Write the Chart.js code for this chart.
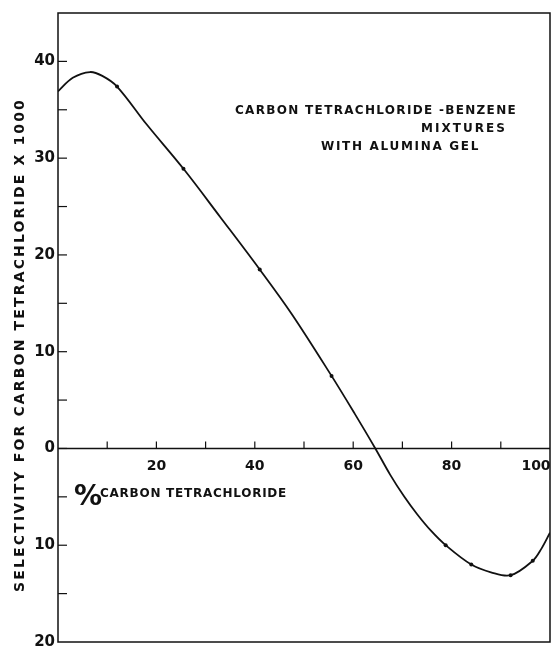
<!DOCTYPE html>
<html>
<head>
<meta charset="utf-8">
<script src="https://cdn.jsdelivr.net/npm/chart.js@4.4.1/dist/chart.umd.min.js"></script>
<style>
  body { margin: 0; background: #fff; }
  canvas { display: block; }
</style>
</head>
<body>
<canvas id="chart" width="554" height="648"></canvas>
<script>
// curve (% CCl4 vs selectivity x 1000)
const curvePercent = [0, 3, 6.5, 9, 12, 18, 25.5, 33, 41, 47.5, 55.6, 60.3, 64.5, 67.5, 70.4, 73, 75.8, 78.8, 84, 88, 92, 96.5, 98.2, 100];
const curveSelectivity = [36.9, 38.3, 38.9, 38.5, 37.4, 33.5, 28.9, 23.9, 18.5, 13.9, 7.5, 3.6, 0, -2.7, -5.0, -6.8, -8.5, -10.0, -12.0, -12.8, -13.1, -11.6, -10.4, -8.7];

// small dots marking measured points
const pointPercent = [12, 25.5, 41, 55.6, 78.8, 84, 92, 96.5];
const pointSelectivity = [37.4, 28.9, 18.5, 7.5, -10.0, -12.0, -13.1, -11.6];

const xLabeled = [20, 40, 60, 80, 100];
const yTitle = 'SELECTIVITY FOR CARBON TETRACHLORIDE X 1000';
const xTitle = 'CARBON TETRACHLORIDE';
const noteLines = ['CARBON TETRACHLORIDE -BENZENE', 'MIXTURES', 'WITH ALUMINA GEL'];

const ink = '#111';

function spacedText(ctx, text, x, y, width, font) {
  ctx.font = font;
  ctx.letterSpacing = '0px';
  const w = ctx.measureText(text).width;
  ctx.letterSpacing = ((width - w) / text.length) + 'px';
  ctx.fillText(text, x, y);
  ctx.letterSpacing = '0px';
}

const framePlugin = {
  id: 'frame',
  beforeDatasetsDraw(chart) {
    const { ctx, chartArea: a, scales: { x, y } } = chart;
    ctx.save();
    ctx.strokeStyle = ink;
    ctx.lineWidth = 1.5;
    ctx.strokeRect(a.left, a.top, a.right - a.left, a.bottom - a.top);
    const y0 = y.getPixelForValue(0);
    ctx.beginPath();
    ctx.moveTo(a.left, y0);
    ctx.lineTo(a.right, y0);
    ctx.stroke();
    // inward ticks on the left axis, every 5
    ctx.lineWidth = 1.2;
    for (let v = -15; v <= 40; v += 5) {
      const py = y.getPixelForValue(v);
      ctx.beginPath();
      ctx.moveTo(a.left, py);
      ctx.lineTo(a.left + 9, py);
      ctx.stroke();
    }
    // upward ticks on the zero line, every 10
    for (let v = 10; v <= 90; v += 10) {
      const px = x.getPixelForValue(v);
      ctx.beginPath();
      ctx.moveTo(px, y0);
      ctx.lineTo(px, y0 - 7);
      ctx.stroke();
    }
    ctx.restore();
  },
  afterDraw(chart) {
    const { ctx } = chart;
    ctx.save();
    ctx.fillStyle = ink;
    ctx.textAlign = 'left';
    ctx.textBaseline = 'middle';

    // annotation block
    spacedText(ctx, noteLines[0], 235, 111, 282, 'bold 12px "DejaVu Sans"');
    spacedText(ctx, noteLines[1], 421, 129, 86, 'bold 12px "DejaVu Sans"');
    spacedText(ctx, noteLines[2], 321, 147, 159, 'bold 12px "DejaVu Sans"');

    // x title
    ctx.font = 'bold 28px "DejaVu Sans"';
    ctx.fillText('%', 74, 498);
    spacedText(ctx, xTitle, 100, 494, 187, 'bold 12px "DejaVu Sans"');

    // y title, rotated
    ctx.translate(20, 345);
    ctx.rotate(-Math.PI / 2);
    spacedText(ctx, yTitle, -247, 0, 494, 'bold 14px "DejaVu Sans"');
    ctx.restore();
  }
};

new Chart(document.getElementById('chart'), {
  type: 'line',
  data: {
    datasets: [
      {
        data: curvePercent.map((p, i) => ({ x: p, y: curveSelectivity[i] })),
        borderColor: ink,
        borderWidth: 1.8,
        pointRadius: 0,
        tension: 0.35,
        fill: false
      },
      {
        data: pointPercent.map((p, i) => ({ x: p, y: pointSelectivity[i] })),
        showLine: false,
        pointRadius: 2,
        pointBackgroundColor: ink,
        pointBorderWidth: 0
      }
    ]
  },
  options: {
    responsive: false,
    devicePixelRatio: 1,
    animation: false,
    layout: { padding: { left: 0, top: 13, right: 2, bottom: 6 } },
    plugins: { legend: { display: false }, tooltip: { enabled: false } },
    scales: {
      x: {
        type: 'linear',
        position: { y: 0 },
        min: 0,
        max: 100,
        grid: { display: false, drawTicks: false },
        border: { display: false },
        ticks: {
          stepSize: 20,
          padding: 9,
          color: ink,
          font: { family: 'DejaVu Sans', size: 14, weight: 'bold' },
          maxRotation: 0,
          callback: v => xLabeled.includes(v) ? (v === 100 ? '100\u2003\u2003' : String(v)) : ''
        },
        afterFit: s => { s.height = 0; s.paddingLeft = 0; s.paddingRight = 0; }
      },
      y: {
        min: -20,
        max: 45,
        grid: { display: false, drawTicks: false },
        border: { display: false },
        ticks: {
          stepSize: 10,
          padding: 3,
          color: ink,
          font: { family: 'DejaVu Sans', size: 15, weight: 'bold' },
          callback: v => v > 40 ? '' : String(Math.abs(v))
        },
        afterFit: s => { s.width = 58; s.paddingTop = 0; s.paddingBottom = 0; }
      }
    }
  },
  plugins: [framePlugin]
});
</script>
</body>
</html>
